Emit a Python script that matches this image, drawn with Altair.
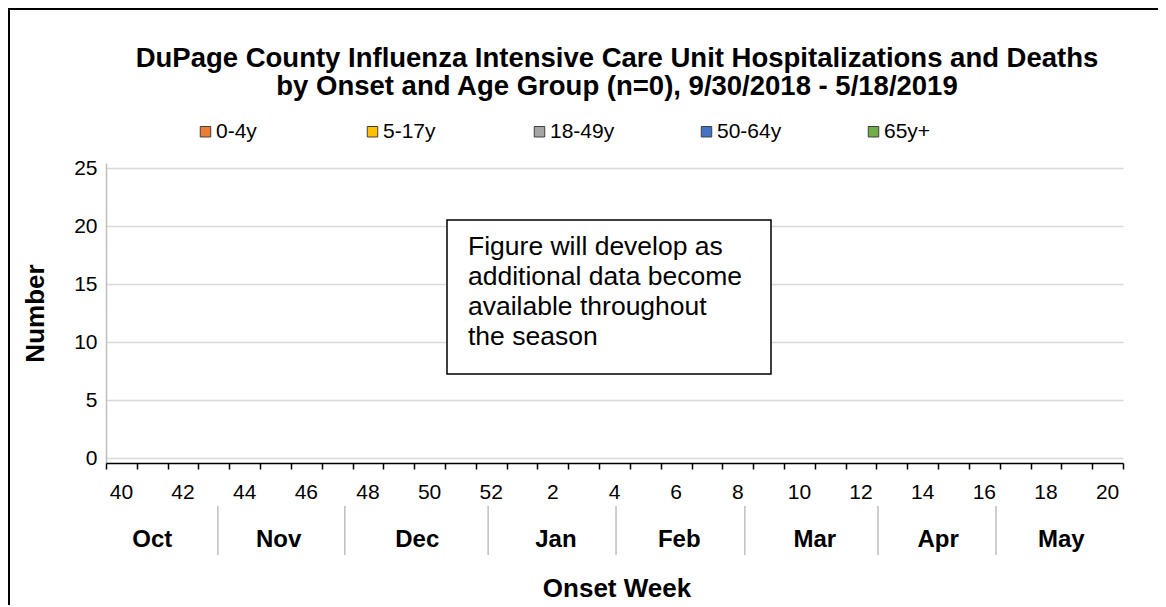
import altair as alt
import pandas as pd

# ---------------- data ----------------
weeks = [40, 41, 42, 43, 44, 45, 46, 47, 48, 49, 50, 51, 52,
         1, 2, 3, 4, 5, 6, 7, 8, 9, 10, 11, 12, 13, 14, 15, 16, 17, 18, 19, 20]
age_groups = ["0-4y", "5-17y", "18-49y", "50-64y", "65y+"]
group_colors = ["#ED7D31", "#FFC000", "#A5A5A5", "#4472C4", "#70AD47"]
counts_0_4 = [0] * 33
counts_5_17 = [0] * 33
counts_18_49 = [0] * 33
counts_50_64 = [0] * 33
counts_65 = [0] * 33
months = ["Oct", "Nov", "Dec", "Jan", "Feb", "Mar", "Apr", "May"]
# month label centres and separators, in week-slot units along the axis
month_centers = [1.5, 5.6, 10.1, 14.6, 18.6, 23.0, 27.0, 31.0]
month_bounds = [3.63, 7.75, 12.4, 16.55, 20.73, 25.05, 28.88]
y_ticks = [0, 5, 10, 15, 20, 25]
title_lines = ["DuPage County Influenza Intensive Care Unit Hospitalizations and Deaths",
               "by Onset and Age Group (n=0), 9/30/2018 - 5/18/2019"]
note_lines = ["Figure will develop as", "additional data become",
              "available throughout", "the season"]

# ---------------- tables ----------------
rows = []
for g, vals in zip(age_groups, [counts_0_4, counts_5_17, counts_18_49, counts_50_64, counts_65]):
    for i, (w, v) in enumerate(zip(weeks, vals)):
        rows.append({"week": w, "pos": i, "end": i + 1, "group": g,
                     "count": v, "order": age_groups.index(g)})
bars_df = pd.DataFrame(rows)
wk_df = pd.DataFrame({"label": [str(w) for w in weeks[::2]],
                      "pos": [i + 0.5 for i in range(0, len(weeks), 2)]})
mon_df = pd.DataFrame({"month": months, "pos": month_centers})
sep_df = pd.DataFrame({"pos": month_bounds})
one = pd.DataFrame({"a": [0]})

W, H = 1017, 300
FONT = "Liberation Sans"
x_scale = alt.Scale(domain=[0, len(weeks)], nice=False, zero=False)
y_scale = alt.Scale(domain=[0, 25], nice=False)
x_axis = alt.Axis(values=list(range(len(weeks) + 1)), labels=False, title=None,
                  grid=False, domainColor="black", domainWidth=1.5,
                  tickColor="black", tickWidth=1.5, tickSize=6, zindex=1)
X = lambda: alt.X("pos:Q", scale=x_scale, axis=x_axis, title=None)

bars = alt.Chart(bars_df).transform_filter("datum.count > 0").mark_bar().encode(
    x=X(),
    x2="end:Q",
    y=alt.Y("count:Q", stack="zero", scale=y_scale,
            axis=alt.Axis(values=y_ticks, title="Number", titleFontSize=26,
                          titleFontWeight="bold", titleColor="black", titlePadding=25,
                          labelFontSize=21, labelColor="black", labelPadding=9,
                          ticks=False, tickSize=0, gridColor="#d9d9d9", gridWidth=1.5,
                          domainColor="#bfbfbf", domainWidth=1.5)),
    color=alt.Color("group:N", scale=alt.Scale(domain=age_groups, range=group_colors),
                    legend=alt.Legend(orient="none", legendX=89, legendY=-42,
                                      direction="horizontal", title=None,
                                      labelFontSize=21, labelColor="black",
                                      symbolType="square", symbolSize=110,
                                      symbolStrokeColor="#404040", symbolStrokeWidth=1,
                                      labelOffset=0, columnPadding=81, gridAlign="all")),
    order="order:Q",
)

week_labels = alt.Chart(wk_df).mark_text(fontSize=21, baseline="middle", color="black").encode(
    x=X(), y=alt.value(330), text="label:N")

month_labels = alt.Chart(mon_df).mark_text(fontSize=24, fontWeight="bold", baseline="middle",
                                           color="black").encode(
    x=X(), y=alt.value(377), text="month:N")

seps = alt.Chart(sep_df).mark_rule(color="#bfbfbf", strokeWidth=1.5).encode(
    x=X(), y=alt.value(343), y2=alt.value(392))

x_title = alt.Chart(one).mark_text(text="Onset Week", fontSize=26, fontWeight="bold",
                                   baseline="alphabetic", color="black").encode(
    x=alt.value(511), y=alt.value(434))

title = alt.Chart(one).mark_text(text=title_lines, fontSize=27.5, fontWeight="bold",
                                 baseline="middle", lineHeight=28, color="black").encode(
    x=alt.value(511), y=alt.value(-104))

note_box = alt.Chart(one).mark_rect(fill="white", stroke="black", strokeWidth=1.5).encode(
    x=alt.value(341), x2=alt.value(665), y=alt.value(57), y2=alt.value(211))

note = alt.Chart(one).mark_text(text=note_lines, fontSize=26.5, align="left", baseline="middle",
                                lineHeight=30, color="black").encode(
    x=alt.value(362), y=alt.value(84))

frame = alt.Chart(one).mark_rect(fill="transparent", stroke="black", strokeWidth=2).encode(
    x=alt.value(-97), x2=alt.value(W + 80), y=alt.value(-154), y2=alt.value(H + 200))

chart = alt.layer(bars, seps, week_labels, month_labels, x_title, title,
                  note_box, note, frame).properties(
    width=W, height=H,
    autosize=alt.AutoSizeParams(type="none"),
    padding={"left": 98, "top": 155, "right": 35, "bottom": 142},
).configure(font=FONT).configure_view(stroke=None)

chart.save("out.html", embed_options={"renderer": "svg", "actions": False})
